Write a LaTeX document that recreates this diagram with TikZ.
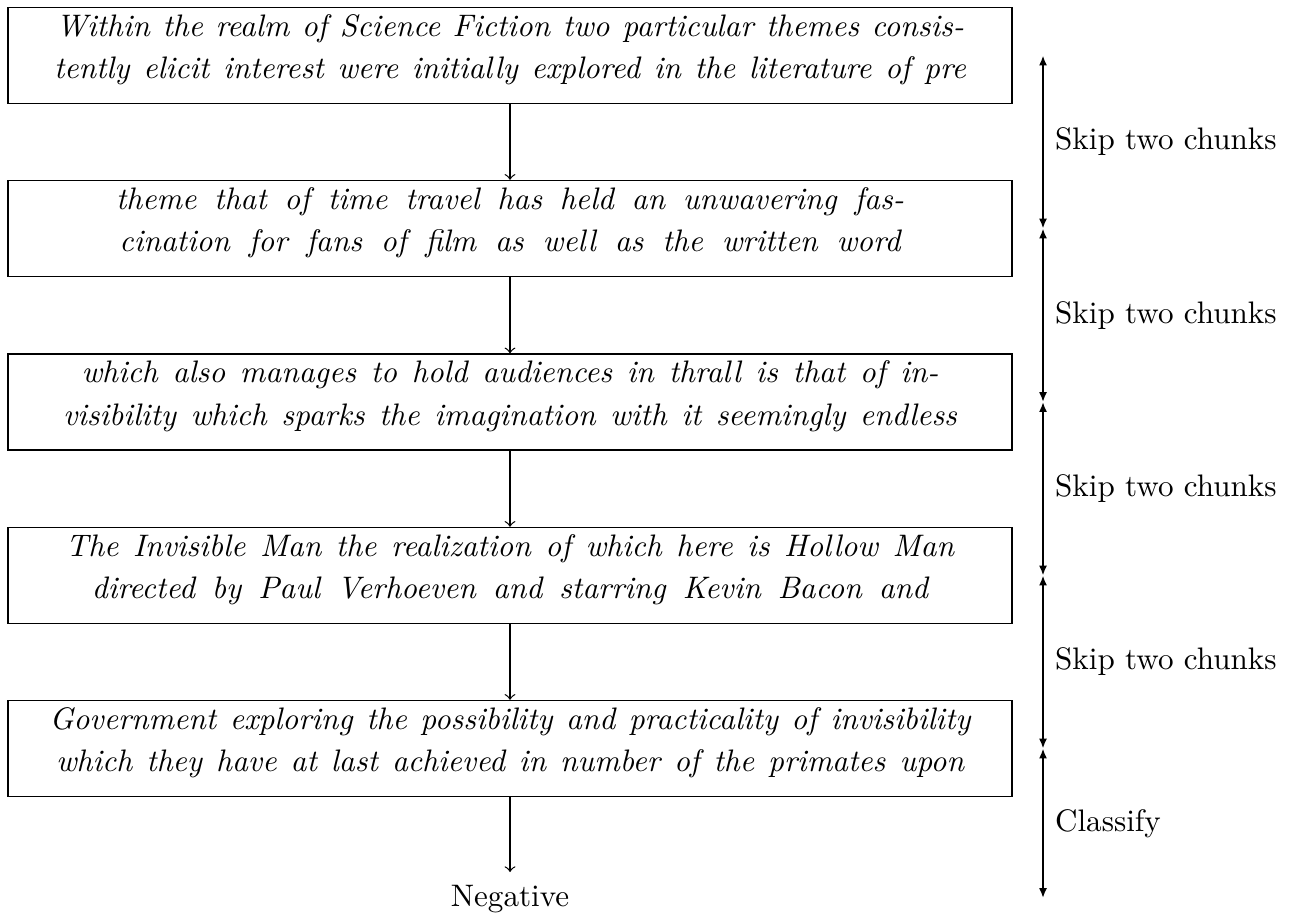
\documentclass[tikz,border=0pt]{standalone}
\usetikzlibrary{arrows.meta}
\newcommand{\bxstrut}{\rule[-6pt]{0pt}{13.28pt}}
\newcommand{\chunkfont}{\itshape\setlength{\baselineskip}{13.8pt}}
\newcommand{\chunkline}[2]{\bxstrut\makebox[#1pt][s]{#2}}
\begin{document}
\begin{tikzpicture}[x=0.3215pt,y=-0.3215pt,
  chunk/.style={draw, line width=0.4pt, minimum width=322.8pt, minimum height=30.9pt,
    inner sep=0pt, align=center, font=\chunkfont},
  flow/.style={-to, line width=0.4pt},
  span/.style={{Latex[length=3.2pt,width=2.6pt]}-{Latex[length=3.2pt,width=2.6pt]}, line width=0.6pt},
  spanlbl/.style={anchor=west, inner sep=0pt, xshift=3.6pt}
]
\useasboundingbox (0,0) rectangle (1294,913);
\node[chunk] (b1) at (510,55.5) {\chunkline{291.9}{Within the realm of Science Fiction two particular themes consis-}\\\chunkline{293.2}{tently elicit interest were initially explored in the literature of pre}};
\node[chunk] (b2) at (510,228.5) {\chunkline{253.3}{theme that of time travel has held an unwavering fas-}\\\chunkline{251.1}{cination for fans of film as well as the written word}};
\node[chunk] (b3) at (510,402) {\chunkline{275.5}{which also manages to hold audiences in thrall is that of in-}\\\chunkline{287.4}{visibility which sparks the imagination with it seemingly endless}};
\node[chunk] (b4) at (510,575.5) {\chunkline{285.5}{The Invisible Man the realization of which here is Hollow Man}\\\chunkline{268.8}{directed by Paul Verhoeven and starring Kevin Bacon and}};
\node[chunk] (b5) at (510,748.5) {\chunkline{296.1}{Government exploring the possibility and practicality of invisibility}\\\chunkline{291.9}{which they have at last achieved in number of the primates upon}};
\node[inner sep=0pt, outer sep=0pt] (neg) at (510,899) {Negative};
\coordinate (negtop) at (510,872);

\draw[flow] (b1) -- (b2);
\draw[flow] (b2) -- (b3);
\draw[flow] (b3) -- (b4);
\draw[flow] (b4) -- (b5);
\draw[flow] (b5.south) -- (negtop);

\coordinate (r1) at (1043,55.5);
\coordinate (r2) at (1043,228.5);
\coordinate (r3) at (1043,402);
\coordinate (r4) at (1043,575.5);
\coordinate (r5) at (1043,748.5);
\coordinate (r6) at (1043,898);

\draw[span] (r1) -- node[spanlbl] {Skip two chunks} (r2);
\draw[span] (r2) -- node[spanlbl] {Skip two chunks} (r3);
\draw[span] (r3) -- node[spanlbl] {Skip two chunks} (r4);
\draw[span] (r4) -- node[spanlbl] {Skip two chunks} (r5);
\draw[span] (r5) -- node[spanlbl] {Classify} (r6);
\end{tikzpicture}
\end{document}
